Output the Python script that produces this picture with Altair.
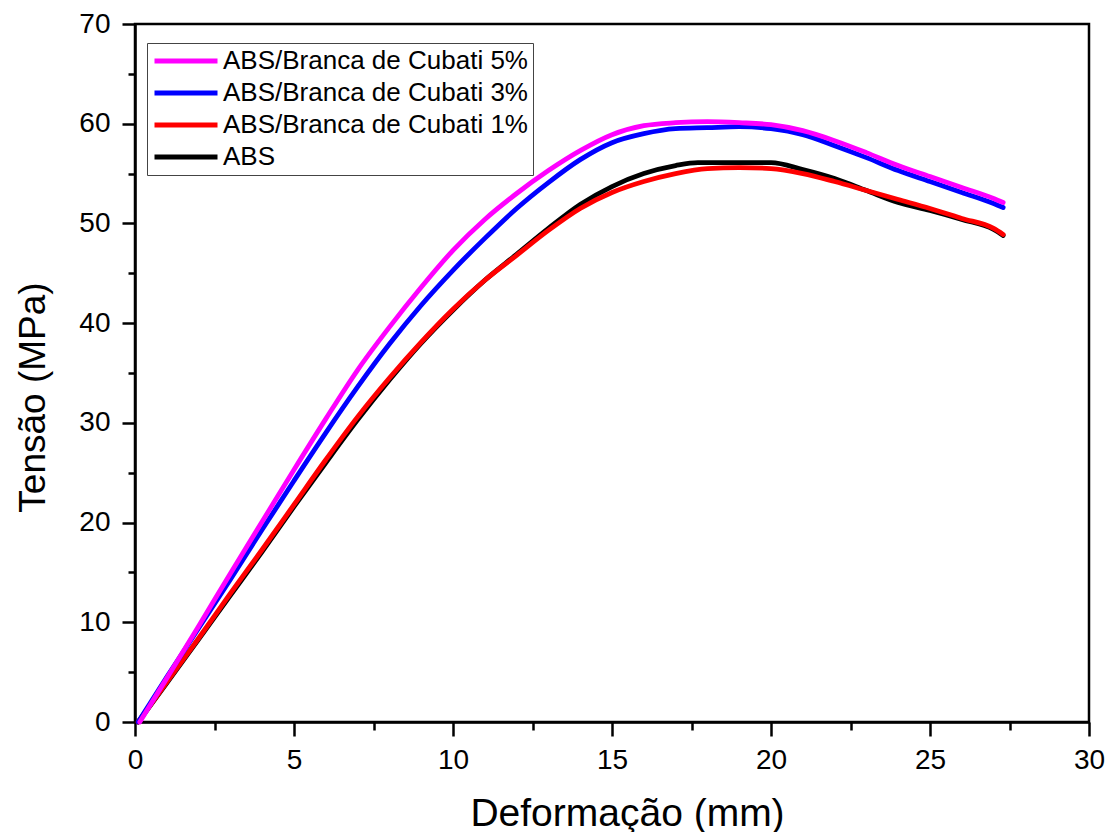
import altair as alt
import pandas as pd

# Deformação (mm) / Tensão (MPa)
x_5 = [0.15, 1, 2, 3, 4, 5, 6, 7, 8, 9, 10, 11, 12, 13, 14, 15, 16, 17, 18, 19, 20, 21, 22, 23, 24, 25, 26, 27, 27.3]
y_5 = [0, 4.4, 9.6, 14.9, 20.1, 25.3, 30.4, 35.3, 39.6, 43.6, 47.3, 50.4, 53.0, 55.3, 57.3, 58.9, 59.8, 60.1, 60.2, 60.1, 59.9, 59.3, 58.3, 57.1, 55.8, 54.7, 53.6, 52.5, 52.1]

x_3 = [0.1, 1, 2, 3, 4, 5, 6, 7, 8, 9, 10, 11, 12, 13, 14, 15, 16, 17, 18, 19, 20, 21, 22, 23, 24, 25, 26, 27, 27.3]
y_3 = [0, 4.5, 9.4, 14.3, 19.3, 24.2, 29.0, 33.6, 37.9, 41.8, 45.3, 48.5, 51.5, 54.1, 56.4, 58.1, 59.0, 59.5, 59.6, 59.7, 59.5, 58.9, 57.8, 56.6, 55.3, 54.2, 53.1, 52.0, 51.6]

x_1 = [0.1, 1, 2, 3, 4, 5, 6, 7, 8, 9, 10, 11, 12, 13, 14, 15, 16, 17, 18, 19, 20, 21, 22, 23, 24, 25, 26, 27, 27.3]
y_1 = [0, 4.0, 8.4, 12.9, 17.3, 21.8, 26.3, 30.6, 34.5, 38.1, 41.4, 44.3, 46.8, 49.3, 51.5, 53.1, 54.2, 55.0, 55.5, 55.6, 55.5, 55.0, 54.2, 53.3, 52.4, 51.5, 50.5, 49.5, 48.9]

x_abs = [0.1, 1, 2, 3, 4, 5, 6, 7, 8, 9, 10, 11, 12, 13, 14, 15, 16, 17, 17.7, 19, 20, 21, 22, 23, 24, 25, 26, 27, 27.3]
y_abs = [0, 3.9, 8.3, 12.7, 17.1, 21.6, 26.0, 30.3, 34.3, 38.0, 41.3, 44.3, 46.9, 49.5, 51.9, 53.7, 55.0, 55.8, 56.1, 56.1, 56.1, 55.4, 54.5, 53.3, 52.1, 51.3, 50.4, 49.4, 48.8]

series_names = ["ABS/Branca de Cubati 5%", "ABS/Branca de Cubati 3%", "ABS/Branca de Cubati 1%", "ABS"]
series_colors = ["#FF00FF", "#0000FF", "#FF0000", "#000000"]
series_x = [x_5, x_3, x_1, x_abs]
series_y = [y_5, y_3, y_1, y_abs]

rows = []
for name, xs, ys in zip(series_names, series_x, series_y):
    for i, (a, b) in enumerate(zip(xs, ys)):
        rows.append({"serie": name, "x": a, "y": b, "i": i})
df = pd.DataFrame(rows)

FONT = "Liberation Sans"

x_enc = alt.X(
    "x:Q",
    scale=alt.Scale(domain=[0, 30], nice=False, zero=False),
    axis=alt.Axis(
        title="Deformação (mm)",
        values=[0, 2.5, 5, 7.5, 10, 12.5, 15, 17.5, 20, 22.5, 25, 27.5, 30],
        labelExpr="datum.value % 5 === 0 ? '' + datum.value : ''",
        tickSize={"condition": {"test": "datum.value % 5 === 0", "value": 14}, "value": 8},
        labelPadding=10,
        labelFlush=False,
        titlePadding=20,
        titleFontSize=39,
        titleX=492,
        grid=False,
    ),
)
y_enc = alt.Y(
    "y:Q",
    scale=alt.Scale(domain=[0, 70], nice=False, zero=False),
    axis=alt.Axis(
        title="Tensão (MPa)",
        values=list(range(0, 71, 5)),
        labelExpr="datum.value % 10 === 0 ? '' + datum.value : ''",
        tickSize={"condition": {"test": "datum.value % 10 === 0", "value": 13}, "value": 7},
        labelPadding=12,
        labelFlush=False,
        titlePadding=26,
        titleFontSize=37,
        titleY=373,
        grid=False,
    ),
)
color_enc = alt.Color(
    "serie:N",
    scale=alt.Scale(domain=series_names, range=series_colors),
    legend=alt.Legend(
        title=None,
        orient="none",
        legendX=12,
        legendY=19,
        symbolType="M-1,0H5",
        symbolSize=441,
        symbolStrokeWidth=5,
        symbolFillColor="transparent",
        labelFontSize=26,
        labelFont=FONT,
        labelColor="black",
        labelOffset=45,
        rowPadding=6,
        padding=5,
        strokeColor="#444444",
        fillColor="white",
        labelLimit=500,
    ),
)

base = alt.Chart(df).mark_line(
    strokeWidth=4.8, strokeJoin="round", strokeCap="round", interpolate="monotone"
).encode(x=x_enc, y=y_enc, color=color_enc, order="i:Q")

draw_order = ["ABS", "ABS/Branca de Cubati 1%", "ABS/Branca de Cubati 3%", "ABS/Branca de Cubati 5%"]
layers = [base.transform_filter(alt.datum.serie == s) for s in draw_order]

chart = alt.layer(*layers).properties(
    width=954,
    height=698,
    padding={"left": 135, "top": 24, "right": 30, "bottom": 110},
    autosize=alt.AutoSizeParams(type="none"),
    background="white",
).configure_view(
    stroke="black", strokeWidth=2.5
).configure_axis(
    domainColor="black",
    domainWidth=2.5,
    tickColor="black",
    tickWidth=2.5,
    labelFont=FONT,
    labelFontSize=28,
    labelColor="black",
    titleFont=FONT,
    titleFontWeight="normal",
    titleColor="black",
)

chart.save("out.html", embed_options={"renderer": "svg", "actions": False})
